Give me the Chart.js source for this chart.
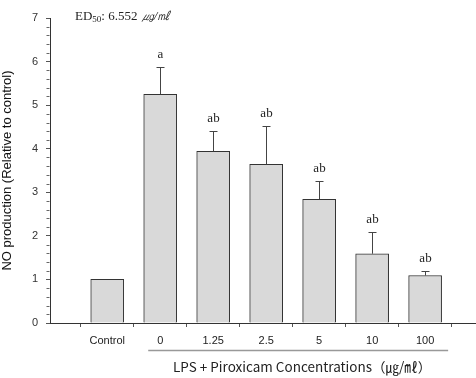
<!DOCTYPE html>
<html>
<head>
<meta charset="utf-8">
<script src="https://cdn.jsdelivr.net/npm/chart.js@4"></script>
<style>
  html, body { margin: 0; padding: 0; background: #fff; }
  #wrap { width: 476px; height: 378px; position: relative; }
</style>
</head>
<body>
<div id="wrap"><canvas id="barChart"></canvas></div>
<script>
// data
const categories = ['Control', '0', '1.25', '2.5', '5', '10', '100'];
const values = [1.0, 5.25, 3.94, 3.64, 2.84, 1.59, 1.09];
const errTop = [null, 5.87, 4.40, 4.52, 3.26, 2.08, 1.19];
const letters = ['', 'a', 'ab', 'ab', 'ab', 'ab', 'ab'];
const yTicks = [0, 1, 2, 3, 4, 5, 6, 7];
const titleText = 'LPS + Piroxicam Concentrations（㎍/㎖）';

const sans = '"Liberation Sans", Arial, sans-serif';
const serif = '"Liberation Serif", "Times New Roman", serif';

// error bars, letters, minor ticks, group line + title
const extras = {
    id: 'extras',
    afterDatasetsDraw(chart) {
        const ctx = chart.ctx;
        const xs = chart.scales.x, ys = chart.scales.y;
        ctx.save();
        ctx.strokeStyle = '#444';
        ctx.lineWidth = 1;
        values.forEach((v, i) => {
            const x = Math.round(xs.getPixelForValue(i)) + 0.5;
            const yb = ys.getPixelForValue(v);
            let yl = yb;
            if (errTop[i] != null) {
                const yt = Math.round(ys.getPixelForValue(errTop[i])) + 0.5;
                ctx.beginPath();
                ctx.moveTo(x, yb);
                ctx.lineTo(x, yt);
                ctx.moveTo(x - 4, yt);
                ctx.lineTo(x + 4, yt);
                ctx.stroke();
                yl = yt;
            }
            if (letters[i]) {
                ctx.fillStyle = '#222';
                ctx.font = '13px ' + serif;
                ctx.textAlign = 'center';
                ctx.textBaseline = 'bottom';
                ctx.fillText(letters[i], x, yl - 6);
            }
        });
        // minor ticks on y axis
        const ax = Math.round(chart.chartArea.left) - 0.5;
        ctx.strokeStyle = '#666';
        for (let k = 0; k <= 35; k++) {
            if (k % 5 === 0) continue;
            const y = Math.round(ys.getPixelForValue(k / 5)) + 0.5;
            ctx.beginPath();
            ctx.moveTo(ax - 3, y);
            ctx.lineTo(ax, y);
            ctx.stroke();
        }
        // group line under the LPS categories
        const x1 = xs.getPixelForValue(1) - 12;
        const x2 = xs.getPixelForValue(categories.length - 1) + 23;
        ctx.strokeStyle = '#999';
        ctx.lineWidth = 1.5;
        ctx.beginPath();
        ctx.moveTo(x1, 350.5);
        ctx.lineTo(x2, 350.5);
        ctx.stroke();
        ctx.fillStyle = '#222';
        ctx.font = '13.5px "Noto Sans CJK KR", sans-serif';
        ctx.textAlign = 'center';
        ctx.textBaseline = 'middle';
        ctx.fillText(titleText, (x1 + x2) / 2 + 4, 367);
        // ED50 note
        ctx.textAlign = 'left';
        ctx.font = '13px ' + serif;
        let tx = 75;
        ctx.fillText('ED', tx, 17);
        tx += ctx.measureText('ED').width;
        ctx.font = '9px ' + serif;
        ctx.fillText('50', tx, 20);
        tx += ctx.measureText('50').width;
        ctx.font = '13px ' + serif;
        ctx.fillText(': 6.552 ', tx, 17);
        tx += ctx.measureText(': 6.552 ').width;
        ctx.font = 'italic 13px ' + serif;
        ctx.fillText('㎍/㎖', tx, 17);
        ctx.restore();
    }
};

const ctxBar = document.getElementById('barChart').getContext('2d');
const barChart = new Chart(ctxBar, {
    type: 'bar',
    data: {
        datasets: [{
            data: values.map((v, i) => ({ x: i, y: v })),
            backgroundColor: '#d9d9d9',
            borderColor: '#333',
            borderWidth: 1,
            barThickness: 33
        }]
    },
    options: {
        responsive: true,
        maintainAspectRatio: false,
        animation: false,
        layout: { padding: { top: 18, right: 0, left: 0, bottom: 0 } },
        plugins: {
            legend: { display: false },
            tooltip: { enabled: false }
        },
        scales: {
            x: {
                type: 'linear',
                offset: false,
                min: -1.08,
                max: 6.96,
                afterBuildTicks(scale) {
                    scale.ticks = categories.map((c, i) => ({ value: i }));
                },
                afterFit(scale) { scale.height = 55; },
                grid: { drawOnChartArea: false, drawTicks: true, tickLength: 4, tickColor: '#555' },
                border: { color: '#333', width: 1 },
                ticks: {
                    callback: (v) => categories[v],
                    color: '#222',
                    font: { family: sans, size: 11 },
                    padding: 7,
                    maxRotation: 0,
                    autoSkip: false
                }
            },
            y: {
                min: 0,
                max: 7,
                afterBuildTicks(scale) {
                    scale.ticks = yTicks.map(v => ({ value: v }));
                },
                afterFit(scale) { scale.width = 50; },
                grid: { drawOnChartArea: false, drawTicks: true, tickLength: 4, tickColor: '#555' },
                border: { color: '#333', width: 1 },
                ticks: {
                    color: '#333',
                    font: { family: sans, size: 11 },
                    padding: 8
                },
                title: {
                    display: true,
                    text: 'NO production (Relative to control)',
                    color: '#111',
                    font: { family: sans, size: 13 },
                    padding: { top: 0, bottom: 6 }
                }
            }
        }
    },
    plugins: [extras]
});
</script>
</body>
</html>
